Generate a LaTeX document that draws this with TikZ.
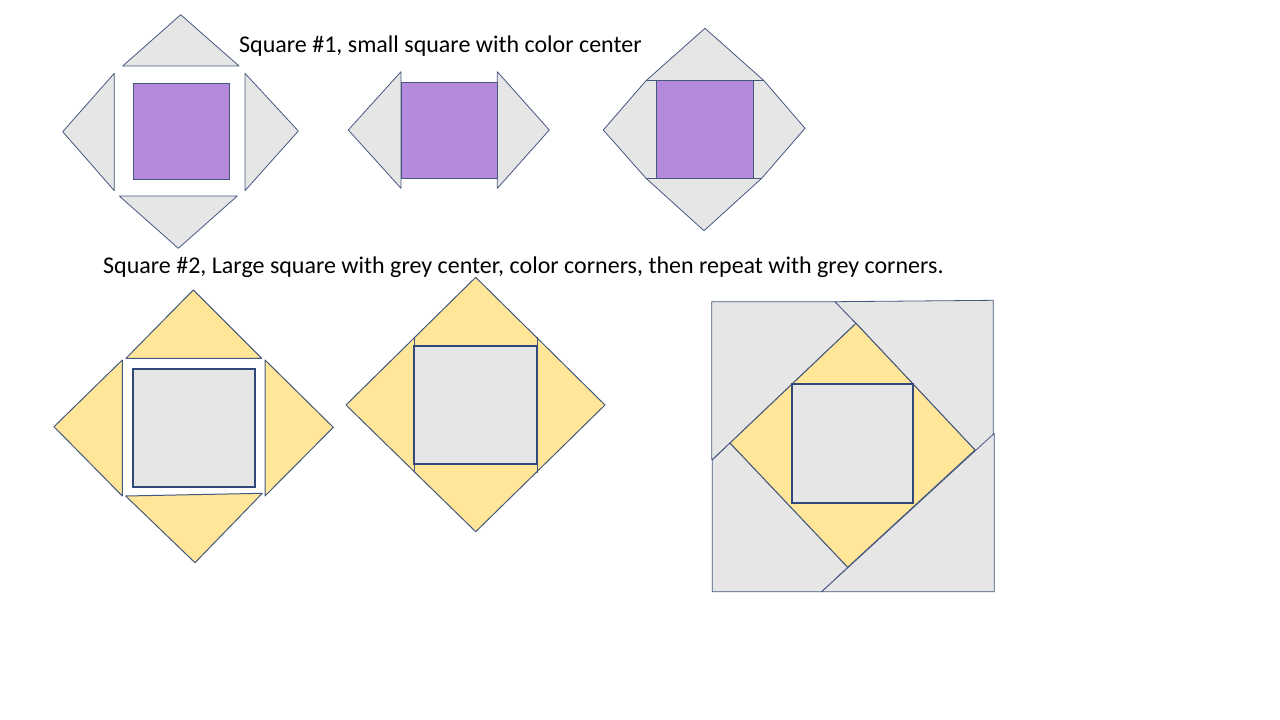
\documentclass[tikz,border=0pt]{standalone}
\usepackage{fontspec}
\setmainfont{Carlito}
\definecolor{quiltgrey}{HTML}{E7E6E6}
\definecolor{quiltyellow}{HTML}{FFE699}
\definecolor{quiltpurple}{HTML}{B589DC}
\definecolor{quiltline}{HTML}{44577F}
\definecolor{quiltdark}{HTML}{31487A}
\tikzset{greypatch/.style={fill=quiltgrey, draw=quiltline, line width=0.8pt, line join=round}}
\tikzset{yellowpatch/.style={fill=quiltyellow, draw=quiltline, line width=1pt, line join=round}}
\tikzset{purplepatch/.style={fill=quiltpurple, draw=quiltline, line width=0.8pt}}
\tikzset{centrepatch/.style={fill=quiltgrey, draw=quiltdark, line width=1.8pt}}
\tikzset{caption/.style={anchor=base west, inner sep=0pt, font=\fontsize{24}{29}\selectfont}}

\begin{document}
\begin{tikzpicture}[x=1pt, y=-1pt]%{{{
        \useasboundingbox (0,0) rectangle (1280,720);

        % square #1, loose pieces
        \filldraw[greypatch] (122.7,66) -- (180.7,14.7) -- (239,66) -- cycle;
        \filldraw[greypatch] (114.3,73.3) -- (62.7,131.7) -- (114.3,190.7) -- cycle;
        \filldraw[greypatch] (245,73.3) -- (298.3,131) -- (245,190.7) -- cycle;
        \filldraw[greypatch] (119.3,196) -- (237.3,196) -- (178.3,248.3) -- cycle;
        \filldraw[purplepatch] (133.3,83.3) rectangle (229.3,179);

        % square #1, sides sewn
        \filldraw[greypatch] (401,71.7) -- (348.3,130) -- (401,188.3) -- cycle;
        \filldraw[greypatch] (497.3,71.7) -- (549.3,130) -- (497.3,188.3) -- cycle;
        \filldraw[purplepatch] (401,82.3) rectangle (497.3,178.3);

        % square #1, finished
        \filldraw[greypatch] (705,28.3) -- (764,80.7) -- (805,128.3) -- (761.7,178.3)
          -- (704,230.7) -- (646,178.3) -- (603.3,130) -- (646,80.7) -- cycle;
        \draw[greypatch] (646,80.7) -- (764,80.7);
        \draw[greypatch] (646,178.3) -- (761.7,178.3);
        \filldraw[purplepatch] (656,80.7) rectangle (753.3,178.3);

        \node[caption] (title1) at (239,52) {Square \#1, small square with color center};
        \node[caption] (title2) at (103,273.5)
        {Square \#2, Large square with grey center, color corners, then repeat with grey corners.};

        % square #2, loose pieces
        \filldraw[yellowpatch] (126,358.3) -- (193.3,290) -- (261.7,358.3) -- cycle;
        \filldraw[yellowpatch] (122.3,360) -- (54,426.7) -- (122.3,496) -- cycle;
        \filldraw[yellowpatch] (265,360) -- (333.3,427.3) -- (265,496) -- cycle;
        \filldraw[yellowpatch] (125.7,496) -- (262.3,493.3) -- (195,562.7) -- cycle;
        \filldraw[centrepatch] (133.3,369.3) rectangle (255,486.7);

        % square #2, colour corners sewn
        \filldraw[yellowpatch] (475.7,277.3) -- (605,405) -- (475.7,531.7) -- (346,405) -- cycle;
        \draw[yellowpatch] (414,336.7) -- (414,472.7);
        \draw[yellowpatch] (537.3,336.7) -- (537.3,472.7);
        \filldraw[centrepatch] (414,345.7) rectangle (537.3,464);

        % square #2, grey corners added
        \filldraw[greypatch] (711.7,301.7) -- (835,301.7) -- (856,323.3) -- (730,443) -- (711.7,460) -- cycle;
        \filldraw[greypatch] (835,301.7) -- (993.3,300.3) -- (993.3,447) -- (975,450) -- (856,323.3) -- cycle;
        \filldraw[greypatch] (712.3,460) -- (730,443) -- (847.7,567.3) -- (821.7,591.7) -- (712.3,591.7) -- cycle;
        \filldraw[greypatch] (994.3,433.3) -- (994.3,591.7) -- (821.7,591.7) -- cycle;
        \filldraw[yellowpatch] (856,323.3) -- (975,450) -- (847.7,567.3) -- (730,443) -- cycle;
        \filldraw[centrepatch] (791.7,384.3) rectangle (913.3,503.3);
   \end{tikzpicture}
\end{document}
